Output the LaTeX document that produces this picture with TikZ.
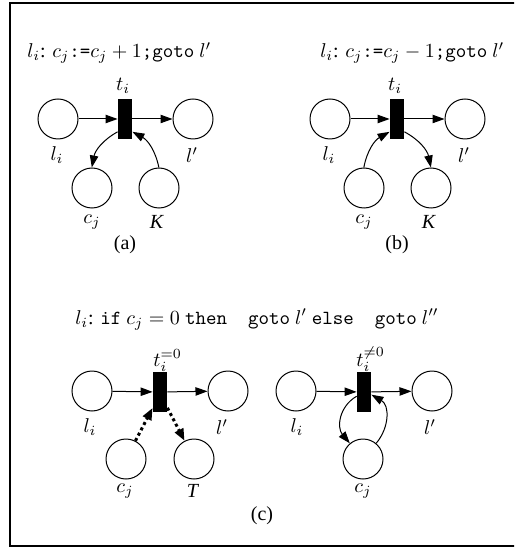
\documentclass[tikz,border=0pt]{standalone}
\usepackage{fontspec}
\setmainfont{Liberation Serif}
\usetikzlibrary{arrows.meta}
\begin{document}
\begin{tikzpicture}[x=0.5pt,y=0.5pt,
  place/.style={circle,draw,line width=0.5pt,minimum size=20pt,inner sep=0pt},
  trans/.style={rectangle,fill=black,minimum width=7pt,minimum height=20pt,inner sep=0pt},
  arr/.style={-{Triangle[length=6pt,width=4.2pt]},line width=0.5pt},
  darr/.style={-{Triangle[length=6pt,width=4.5pt]},line width=1.5pt,dash pattern=on 1.5pt off 1.5pt},
  lbl/.style={inner sep=0pt},
  ttl/.style={inner sep=0pt,anchor=base west},
  font=\fontsize{10}{12}\selectfont]
\useasboundingbox (0,0) rectangle (514,-549);
\clip (0,0) rectangle (514,-549);
\draw[line width=1.1pt] (530,-3) -- (10,-3) -- (10,-546) -- (530,-546);

% ---------- (a)
\node[ttl] (tia) at (27,-58) {$l_i$: $c_j$\texttt{:=}$c_j+1$\texttt{;goto} $l'$};
\node[place] (la) at (58,-119) {};
\node[trans] (ta) at (125,-119) {};
\node[place] (lpa) at (193,-119) {};
\node[place] (ca) at (92,-188) {};
\node[place] (ka) at (159,-188) {};
\node[lbl,anchor=base] (tla) at (123,-91) {$t_i$};
\node[lbl] (lla) at (57,-155) {$l_i$};
\node[lbl] (lpla) at (192,-155) {$l'$};
\node[lbl] (cla) at (92,-222) {$c_j$};
\node[lbl] (kla) at (157,-222) {\textit{K}};
\node[lbl] (capa) at (125,-245) {(a)};
\draw[arr] (la) -- (ta);
\draw[arr] (ta) -- (lpa);
\draw[arr] (ta.-120) to[bend right=25] (ca);
\draw[arr] (ka) to[bend right=25] (ta.-60);

% ---------- (b)
\node[ttl] (tib) at (320,-58) {$l_i$: $c_j$\texttt{:=}$c_j-1$\texttt{;goto} $l'$};
\node[place] (lb) at (330,-119) {};
\node[trans] (tb) at (397,-119) {};
\node[place] (lpb) at (465,-119) {};
\node[place] (cb) at (364,-188) {};
\node[place] (kb) at (431,-188) {};
\node[lbl,anchor=base] (tlb) at (395,-91) {$t_i$};
\node[lbl] (llb) at (329,-155) {$l_i$};
\node[lbl] (lplb) at (464,-155) {$l'$};
\node[lbl] (clb) at (364,-222) {$c_j$};
\node[lbl] (klb) at (429,-222) {\textit{K}};
\node[lbl] (capb) at (397,-245) {(b)};
\draw[arr] (lb) -- (tb);
\draw[arr] (tb) -- (lpb);
\draw[arr] (cb) to[bend left=25] (tb.-120);
\draw[arr] (tb.-60) to[bend left=25] (kb);

% ---------- (c)
\node[ttl] (tic) at (75,-324) {$l_i$: \texttt{if} $c_j=0$ \texttt{then\ \ goto} $l'$ \texttt{else\ \ goto} $l''$};
% left
\node[place] (lc) at (92,-391) {};
\node[trans] (tc) at (160,-392) {};
\node[place] (lpc) at (228,-391) {};
\node[place] (cc) at (126,-459) {};
\node[place] (tt) at (194,-459) {};
\node[lbl,anchor=base west] (tlc) at (153,-366) {$t_i^{=0}$};
\node[lbl] (llc) at (90,-427) {$l_i$};
\node[lbl] (lplc) at (222,-427) {$l'$};
\node[lbl] (clc) at (125,-491) {$c_j$};
\node[lbl] (ttlc) at (193,-491) {\textit{T}};
\draw[arr] (lc) -- (tc);
\draw[arr] (tc) -- (lpc);
\draw[darr] (cc) -- (tc.-115);
\draw[darr] (tc.-65) -- (tt);
% right
\node[place] (ld) at (296,-391) {};
\node[trans] (td) at (364,-392) {};
\node[place] (lpd) at (432,-391) {};
\node[place] (cd) at (363,-459) {};
\node[lbl,anchor=base west] (tld) at (356,-366) {$t_i^{\neq0}$};
\node[lbl] (lld) at (297,-427) {$l_i$};
\node[lbl] (lpld) at (430,-427) {$l'$};
\node[lbl] (cld) at (363,-491) {$c_j$};
\draw[arr] (ld) -- (td);
\draw[arr] (td) -- (lpd);
\draw[arr] (td.-150) to[out=210,in=130,looseness=1.1] (cd);
\draw[arr] (cd) to[out=50,in=-30,looseness=1.1] (td.-20);
\node[lbl] (capc) at (262,-516) {(c)};
\end{tikzpicture}
\end{document}
